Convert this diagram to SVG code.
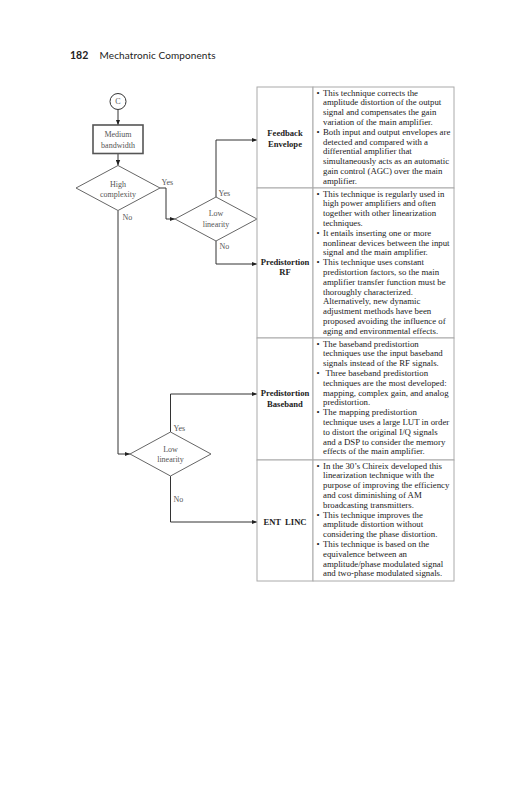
<svg xmlns="http://www.w3.org/2000/svg" width="531" height="800" viewBox="0 0 531 800">
<style>
.hdr{font-family:Lato,"Open Sans","DejaVu Sans",sans-serif;fill:#222}
.fc{font-family:"Liberation Serif","Times New Roman",serif;font-size:8px;fill:#555;text-anchor:middle}
.lbl{font-family:"Liberation Serif","Times New Roman",serif;font-size:8px;fill:#555}
.shape{fill:#fff;stroke:#666;stroke-width:1}
.box{fill:#fff;stroke:#555;stroke-width:1.6}
.cell{fill:#fff;stroke:#aaa;stroke-width:1}
.th{font-family:"Liberation Serif","Times New Roman",serif;font-size:8.6px;font-weight:bold;fill:#222;text-anchor:middle}
.td{font-family:"Liberation Serif","Times New Roman",serif;font-size:8.8px;fill:#222}
.conn{fill:none;stroke:#333;stroke-width:1}
</style>
<defs>
<marker id="arr" markerWidth="6" markerHeight="5" refX="5.5" refY="2.5" orient="auto" markerUnits="userSpaceOnUse">
<path d="M0,0.3 L5.5,2.5 L0,4.7 Z" fill="#222"/>
</marker>
</defs>
<rect width="531" height="800" fill="#fff"/>

<g id="header">
<text class="hdr" x="70" y="58.5" font-size="10.5" font-weight="bold">182</text>
<text class="hdr" x="99.5" y="58.5" font-size="10" textLength="116">Mechatronic Components</text>
</g>

<g id="connectors">
<path class="conn" d="M118,109.5 V125" marker-end="url(#arr)"/>
<path class="conn" d="M118,153.5 V165.5" marker-end="url(#arr)"/>
<path class="conn" d="M160,188 H166 V219 H175" marker-end="url(#arr)"/>
<path class="conn" d="M118,210.5 V454 H130" marker-end="url(#arr)"/>
<path class="conn" d="M216,197 V140 H257" marker-end="url(#arr)"/>
<path class="conn" d="M216,241 V264 H257" marker-end="url(#arr)"/>
<path class="conn" d="M170.5,432 V394 H257" marker-end="url(#arr)"/>
<path class="conn" d="M170.5,476 V522 H257" marker-end="url(#arr)"/>
<text class="lbl" x="161.5" y="185">Yes</text>
<text class="lbl" x="122.5" y="219.5">No</text>
<text class="lbl" x="218.5" y="196">Yes</text>
<text class="lbl" x="219.5" y="248.5">No</text>
<text class="lbl" x="173.5" y="431">Yes</text>
<text class="lbl" x="173.5" y="502">No</text>
</g>

<g id="node-c">
<circle cx="118" cy="101.5" r="8" fill="#fff" stroke="#333" stroke-width="1"/>
<text class="fc" x="118" y="104.4">C</text>
</g>

<g id="node-medium-bandwidth">
<rect class="box" x="93" y="125" width="50" height="28.5"/>
<text class="fc" x="118" y="137">Medium</text>
<text class="fc" x="118" y="148">bandwidth</text>
</g>

<g id="node-high-complexity">
<polygon class="shape" points="118,165.5 160,188 118,210.5 76,188"/>
<text class="fc" x="118" y="187">High</text>
<text class="fc" x="118" y="196.5">complexity</text>
</g>

<g id="node-low-linearity-1">
<polygon class="shape" points="216,197 257,219 216,241 175,219"/>
<text class="fc" x="216" y="216">Low</text>
<text class="fc" x="216" y="226.5">linearity</text>
</g>

<g id="node-low-linearity-2">
<polygon class="shape" points="170.5,432 211,454 170.5,476 130,454"/>
<text class="fc" x="170.5" y="451.5">Low</text>
<text class="fc" x="170.5" y="462">linearity</text>
</g>

<g id="node-feedback-envelope">
<rect class="cell" x="257" y="87" width="56" height="101"/>
<rect class="cell" x="313" y="87" width="141" height="101"/>
<text class="th" x="285" y="136">Feedback</text>
<text class="th" x="285" y="146.5">Envelope</text>
<text class="td">
<tspan x="316.5" y="95.5">•</tspan><tspan x="323" y="95.5">This technique corrects the</tspan>
<tspan x="323" y="105.3">amplitude distortion of the output</tspan>
<tspan x="323" y="115.1">signal and compensates the gain</tspan>
<tspan x="323" y="124.9">variation of the main amplifier.</tspan>
<tspan x="316.5" y="134.7">•</tspan><tspan x="323" y="134.7">Both input and output envelopes are</tspan>
<tspan x="323" y="144.5">detected and compared with a</tspan>
<tspan x="323" y="154.3">differential amplifier that</tspan>
<tspan x="323" y="164.1">simultaneously acts as an automatic</tspan>
<tspan x="323" y="173.9">gain control (AGC) over the main</tspan>
<tspan x="323" y="183.7">amplifier.</tspan>
</text>
</g>

<g id="node-predistortion-rf">
<rect class="cell" x="257" y="188" width="56" height="150"/>
<rect class="cell" x="313" y="188" width="141" height="150"/>
<text class="th" x="285" y="265">Predistortion</text>
<text class="th" x="285" y="275">RF</text>
<text class="td">
<tspan x="316.5" y="196.5">•</tspan><tspan x="323" y="196.5">This technique is regularly used in</tspan>
<tspan x="323" y="206.3">high power amplifiers and often</tspan>
<tspan x="323" y="216.1">together with other linearization</tspan>
<tspan x="323" y="225.9">techniques.</tspan>
<tspan x="316.5" y="235.7">•</tspan><tspan x="323" y="235.7">It entails inserting one or more</tspan>
<tspan x="323" y="245.5">nonlinear devices between the input</tspan>
<tspan x="323" y="255.3">signal and the main amplifier.</tspan>
<tspan x="316.5" y="265.1">•</tspan><tspan x="323" y="265.1">This technique uses constant</tspan>
<tspan x="323" y="274.9">predistortion factors, so the main</tspan>
<tspan x="323" y="284.7">amplifier transfer function must be</tspan>
<tspan x="323" y="294.5">thoroughly characterized.</tspan>
<tspan x="323" y="304.3">Alternatively, new dynamic</tspan>
<tspan x="323" y="314.1">adjustment methods have been</tspan>
<tspan x="323" y="323.9">proposed avoiding the influence of</tspan>
<tspan x="323" y="333.7">aging and environmental effects.</tspan>
</text>
</g>

<g id="node-predistortion-baseband">
<rect class="cell" x="257" y="338" width="56" height="122"/>
<rect class="cell" x="313" y="338" width="141" height="122"/>
<text class="th" x="285" y="396">Predistortion</text>
<text class="th" x="285" y="407">Baseband</text>
<text class="td">
<tspan x="316.5" y="346.5">•</tspan><tspan x="323" y="346.5">The baseband predistortion</tspan>
<tspan x="323" y="356.3">techniques use the input baseband</tspan>
<tspan x="323" y="366.1">signals instead of the RF signals.</tspan>
<tspan x="316.5" y="375.9">•</tspan><tspan x="325.5" y="375.9">Three baseband predistortion</tspan>
<tspan x="323" y="385.7">techniques are the most developed:</tspan>
<tspan x="323" y="395.5">mapping, complex gain, and analog</tspan>
<tspan x="323" y="405.3">predistortion.</tspan>
<tspan x="316.5" y="415.1">•</tspan><tspan x="323" y="415.1">The mapping predistortion</tspan>
<tspan x="323" y="424.9">technique uses a large LUT in order</tspan>
<tspan x="323" y="434.7">to distort the original I/Q signals</tspan>
<tspan x="323" y="444.5">and a DSP to consider the memory</tspan>
<tspan x="323" y="454.3">effects of the main amplifier.</tspan>
</text>
</g>

<g id="node-ent-linc">
<rect class="cell" x="257" y="460" width="56" height="121"/>
<rect class="cell" x="313" y="460" width="141" height="121"/>
<text class="th" x="285" y="525" word-spacing="2">ENT LINC</text>
<text class="td">
<tspan x="316.5" y="468.5">•</tspan><tspan x="323" y="468.5">In the 30’s Chireix developed this</tspan>
<tspan x="323" y="478.3">linearization technique with the</tspan>
<tspan x="323" y="488.1">purpose of improving the efficiency</tspan>
<tspan x="323" y="497.9">and cost diminishing of AM</tspan>
<tspan x="323" y="507.7">broadcasting transmitters.</tspan>
<tspan x="316.5" y="517.5">•</tspan><tspan x="323" y="517.5">This technique improves the</tspan>
<tspan x="323" y="527.3">amplitude distortion without</tspan>
<tspan x="323" y="537.1">considering the phase distortion.</tspan>
<tspan x="316.5" y="546.9">•</tspan><tspan x="323" y="546.9">This technique is based on the</tspan>
<tspan x="323" y="556.7">equivalence between an</tspan>
<tspan x="323" y="566.5">amplitude/phase modulated signal</tspan>
<tspan x="323" y="576.3">and two-phase modulated signals.</tspan>
</text>
</g>
</svg>
